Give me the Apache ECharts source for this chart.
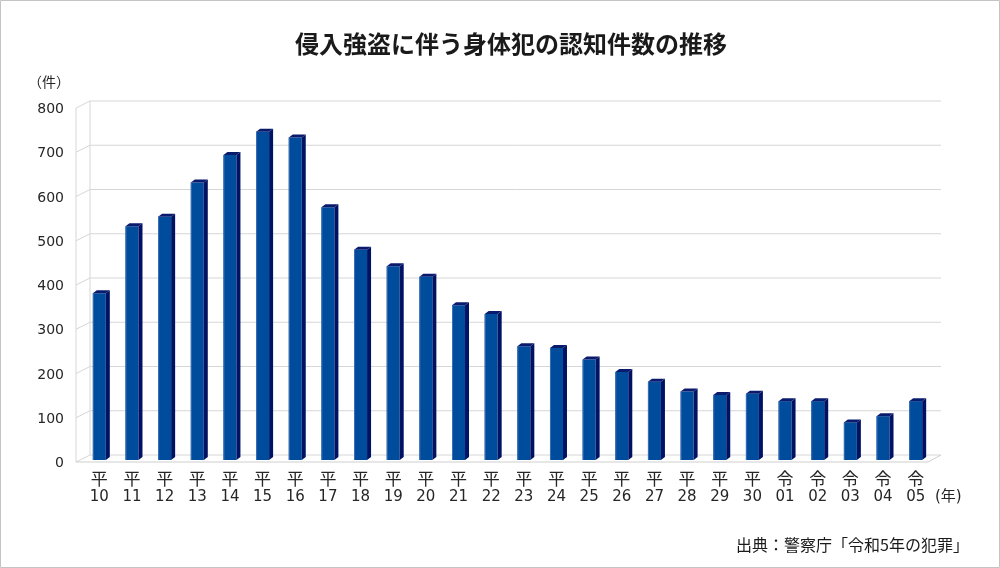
<!DOCTYPE html>
<html><head><meta charset="utf-8">
<script src="https://cdn.jsdelivr.net/npm/echarts@6/dist/echarts.min.js"></script>
<style>html,body{margin:0;padding:0;background:#fff}#c{width:1000px;height:568px}</style>
</head><body><div id="c"></div>
<script>
// ---- data ----
const eras = ['平','平','平','平','平','平','平','平','平','平','平','平','平','平','平','平','平','平','平','平','平','令','令','令','令','令'];
const years = ['10','11','12','13','14','15','16','17','18','19','20','21','22','23','24','25','26','27','28','29','30','01','02','03','04','05'];
const counts = [377,528,550,627,689,742,729,571,475,438,414,350,330,257,253,227,199,177,155,147,150,133,133,85,99,133];
const yTickValues = [0,100,200,300,400,500,600,700,800];
const titleText = '侵入強盗に伴う身体犯の認知件数の推移';
const yUnit = '（件）';
const xUnit = '(年)';
const sourceText = '出典：警察庁「令和5年の犯罪」';

const categories = eras.map((e, i) => e + '\n' + years[i]);
const FONT = '"DejaVu Sans","Noto Sans CJK JP",sans-serif';
const CJK = '"Noto Sans CJK JP","DejaVu Sans",sans-serif';

const chart = echarts.init(document.getElementById('c'), null, {renderer: 'canvas'});

// 3D offsets relative to the bar (grid) plane
const FRONT = {dx: -7, dy: 2};
const BACK = {dx: 7, dy: -5};

function renderWalls(params, api) {
  const cs = params.coordSys;
  const L = cs.x, R = cs.x + cs.width;
  const children = [];
  const grid = '#d6d6d6';
  yTickValues.forEach(v => {
    const y = api.coord([0, v])[1];
    children.push({type: 'line', shape: {x1: L + BACK.dx, y1: y + BACK.dy, x2: R + BACK.dx + 2, y2: y + BACK.dy}, style: {stroke: grid, lineWidth: 1}});
    children.push({type: 'line', shape: {x1: L + FRONT.dx, y1: y + FRONT.dy, x2: L + BACK.dx, y2: y + BACK.dy}, style: {stroke: grid, lineWidth: 1}});
  });
  const y0 = api.coord([0, yTickValues[0]])[1];
  const yMax = api.coord([0, yTickValues[yTickValues.length - 1]])[1];
  children.push({type: 'line', shape: {x1: L + BACK.dx, y1: y0 + BACK.dy, x2: L + BACK.dx, y2: yMax + BACK.dy}, style: {stroke: grid, lineWidth: 1}});
  children.push({type: 'line', shape: {x1: L + FRONT.dx, y1: y0 + FRONT.dy, x2: L + FRONT.dx, y2: yMax + FRONT.dy}, style: {stroke: grid, lineWidth: 1}});
  children.push({type: 'line', shape: {x1: L + FRONT.dx, y1: y0 + FRONT.dy, x2: R + FRONT.dx + 3, y2: y0 + FRONT.dy}, style: {stroke: '#cfcfcf', lineWidth: 1}});
  children.push({type: 'line', shape: {x1: R + FRONT.dx + 3, y1: y0 + FRONT.dy, x2: R + BACK.dx + 2, y2: y0 + BACK.dy}, style: {stroke: '#cfcfcf', lineWidth: 1}});
  return {type: 'group', children};
}

function renderBar(params, api) {
  const idx = api.value(0);
  const v = api.value(1);
  const top = api.coord([idx, v]);
  const base = api.coord([idx, 0]);
  const hw = 6.5, dx = 4, dy = -3;
  const cx = top[0], ty = top[1], by = base[1];
  return {type: 'group', children: [
    {type: 'rect', shape: {x: cx - hw, y: ty, width: hw * 2, height: by - ty}, style: {fill: '#004c9c'}},
    {type: 'line', shape: {x1: cx - hw + 0.5, y1: ty, x2: cx - hw + 0.5, y2: by}, style: {stroke: '#3d6fb5', lineWidth: 1}},
    {type: 'polygon', shape: {points: [[cx + hw, ty], [cx + hw + dx, ty + dy], [cx + hw + dx, by + dy], [cx + hw, by]]}, style: {fill: '#001263'}},
    {type: 'polygon', shape: {points: [[cx - hw, ty], [cx - hw + dx, ty + dy], [cx + hw + dx, ty + dy], [cx + hw, ty]]}, style: {fill: '#0a1b6e'}}
  ]};
}

chart.setOption({
  backgroundColor: '#fff',
  animation: false,
  title: {
    text: titleText, left: 290, top: 27,
    textStyle: {fontFamily: CJK, fontSize: 24, fontWeight: 'bold', color: '#1a1a1a'}
  },
  grid: {left: 83, right: 68, top: 106, bottom: 108},
  xAxis: {
    type: 'category', data: categories,
    axisLine: {show: false}, axisTick: {show: false}, splitLine: {show: false},
    axisLabel: {
      interval: 0, margin: 10, color: '#262626',
      formatter: (v) => { const p = v.split('\n'); return '{e|' + p[0] + '}\n{n|' + p[1] + '}'; },
      rich: {
        e: {fontFamily: CJK, fontSize: 17, lineHeight: 18, color: '#262626'},
        n: {fontFamily: FONT, fontSize: 15, lineHeight: 18, color: '#262626'}
      }
    }
  },
  yAxis: {
    type: 'value', min: yTickValues[0], max: yTickValues[yTickValues.length - 1], interval: 100,
    axisLine: {show: false}, axisTick: {show: false}, splitLine: {show: false},
    axisLabel: {margin: 19, fontFamily: FONT, fontSize: 14, color: '#262626', verticalAlign: 'top', lineHeight: 7}
  },
  series: [
    {type: 'custom', renderItem: renderWalls, data: [[0, 0]], encode: {x: 0, y: 1}, z: 1, silent: true, clip: false},
    {type: 'custom', renderItem: renderBar, data: counts.map((v, i) => [i, v]), encode: {x: 0, y: 1}, z: 2, clip: false}
  ],
  graphic: [
    {type: 'rect', shape: {x: 0.5, y: 0.5, width: 999, height: 567}, style: {fill: null, stroke: '#c4c4c4', lineWidth: 1}, silent: true},
    {type: 'text', x: 70, y: 83, style: {text: yUnit, font: '14px ' + FONT, fill: '#262626', textAlign: 'right', textVerticalAlign: 'middle'}},
    {type: 'text', x: 935, y: 497, style: {text: xUnit, font: '15px ' + FONT, fill: '#262626', textAlign: 'left', textVerticalAlign: 'middle'}},
    {type: 'text', x: 969, y: 545, style: {text: sourceText, font: '16px ' + CJK, fill: '#1a1a1a', textAlign: 'right', textVerticalAlign: 'middle'}}
  ]
});
</script>
</body></html>
